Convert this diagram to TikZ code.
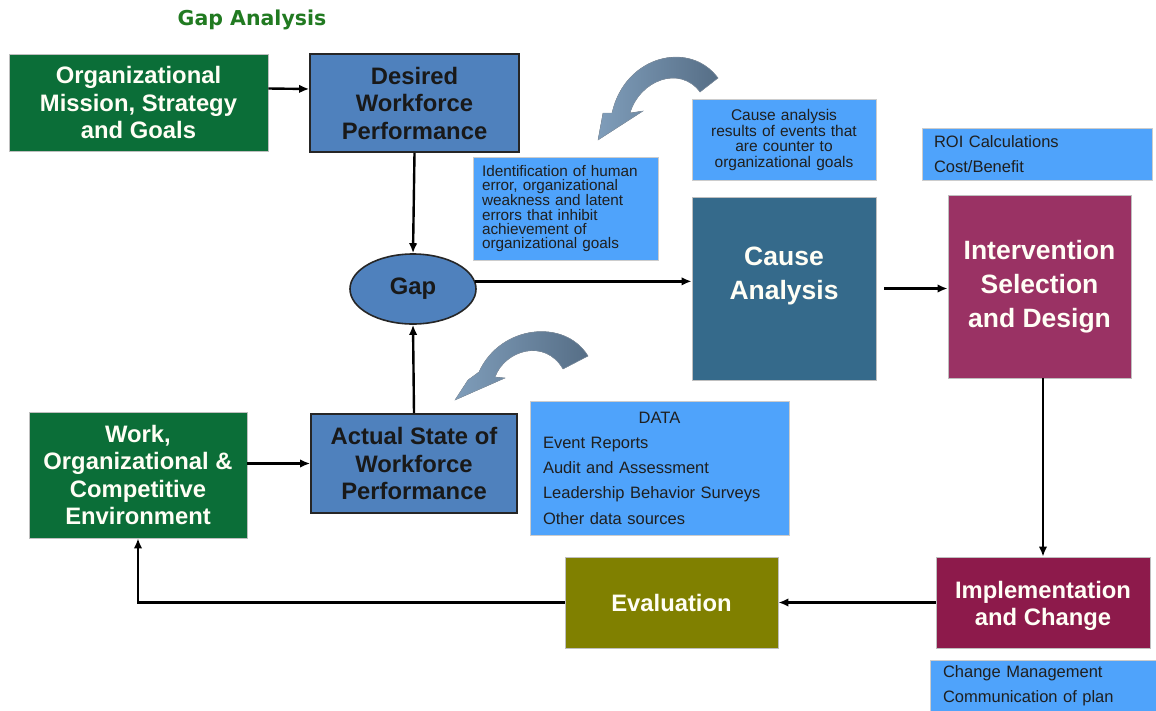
\documentclass[tikz,border=0pt]{standalone}
\usepackage{fontspec}
\setmainfont{Liberation Sans}
\newfontfamily\titlefont{DejaVu Sans}
\usetikzlibrary{arrows.meta,shapes.geometric,calc}
\definecolor{orggreen}{HTML}{0B6E38}
\definecolor{wfblue}{HTML}{4F81BD}
\definecolor{lightblue}{HTML}{4FA3FB}
\definecolor{causeblue}{HTML}{356A8B}
\definecolor{intercol}{HTML}{9A3264}
\definecolor{implcol}{HTML}{8D1A4B}
\definecolor{evalcol}{HTML}{808000}
\definecolor{titlegreen}{HTML}{217A21}
\definecolor{arrowlight}{HTML}{7F9DBA}
\definecolor{arrowdark}{HTML}{566E86}
\tikzset{
  box/.style={draw=black!25, line width=0.8pt, inner sep=0pt, align=center,
    font=\bfseries\fontsize{23.8}{27.5}\selectfont, text=white!96!yellow},
  greenbox/.style={box, fill=orggreen},
  wfbox/.style={box, draw=black!85, line width=1.6pt, fill=wfblue, text=black!90},
  bigbox/.style={box, font=\bfseries\fontsize{26.5}{34}\selectfont},
  note/.style={fill=lightblue, draw=black!20, line width=0.6pt, text=black!88,
    font=\fontsize{16.5}{25.3}\selectfont, align=left, inner sep=0pt},
  arr/.style={line width=2.4pt, -{Latex[length=10pt,width=8.5pt]}},
  curvearrow/.style={left color=arrowlight, right color=arrowdark, draw=arrowdark!70, line width=0.4pt}
}
\begin{document}
\begin{tikzpicture}[x=1pt,y=-1pt]
\useasboundingbox (0,0) rectangle (1156,710);
\fill[white] (0,0) rectangle (1156,710);

\node[font=\titlefont\bfseries\fontsize{20.5}{24}\selectfont, text=titlegreen] (title) at (252,20) {Gap Analysis};

\node[greenbox, minimum width=259pt, minimum height=97pt] (org) at (138.5,102.5)
  {Organizational\\Mission, Strategy\\and Goals};
\node[wfbox, minimum width=209pt, minimum height=98pt] (des) at (414.5,103)
  {Desired\\Workforce\\Performance};
\node[wfbox, ellipse, minimum width=126pt, minimum height=70pt] (gap) at (413,289) {Gap};

\node[note, minimum width=185pt, minimum height=103pt, text width=167pt,
  font=\fontsize{15.3}{14.2}\selectfont] (ident) at (565.5,208.5)
  {Identification of human\\error, organizational\\weakness and latent\\errors that inhibit\\achievement of\\organizational goals};

\node[note, align=center, minimum width=184pt, minimum height=81pt, text width=184pt,
  font=\fontsize{15.5}{15.7}\selectfont] (results) at (784,140)
  {Cause analysis\\results of events that\\are counter to\\organizational goals};

\node[bigbox, fill=causeblue, minimum width=184pt, minimum height=183pt] (cause) at (784,288.5)
  {Cause\\Analysis\\[-4pt]\phantom{A}};

\node[note, minimum width=230pt, minimum height=52pt, text width=206pt] (roi) at (1037,154)
  {ROI Calculations\\Cost/Benefit};

\node[bigbox, fill=intercol, minimum width=183pt, minimum height=183pt] (inter) at (1039.5,286.5)
  {Intervention\\Selection\\and Design};

\node[box, fill=implcol, minimum width=214pt, minimum height=91pt] (impl) at (1043,602.5)
  {\raisebox{-10pt}[0pt][0pt]{\begin{tabular}{@{}c@{}}Implementation\\and Change\end{tabular}}};

\node[note, minimum width=226pt, minimum height=52pt, text width=200pt] (change) at (1043,686)
  {Change Management\\Communication of plan};

\node[box, fill=evalcol, minimum width=213pt, minimum height=91pt] (eval) at (671.5,602.5)
  {Evaluation};

\node[greenbox, minimum width=218pt, minimum height=126pt] (work) at (138,475)
  {Work,\\Organizational \&\\Competitive\\Environment};

\node[wfbox, minimum width=206pt, minimum height=99pt] (actual) at (414,463.5)
  {Actual State of\\Workforce\\Performance};

\node[note, minimum width=259pt, minimum height=134pt, text width=233pt] (data) at (659.5,468)
  {\makebox[\linewidth][c]{DATA}\\Event Reports\\Audit and Assessment\\Leadership Behavior Surveys\\Other data sources};

% curved arrows
\fill[curvearrow] (718,78) .. controls (690,40) and (625,55) .. (612,113) -- (603,113) -- (598,140)
  -- (643,111) -- (630,113) .. controls (640,80) and (680,65) .. (700,92) -- cycle;
\fill[curvearrow] (588,356) .. controls (565,318) and (500,325) .. (479,372) -- (468,380) -- (455,400)
  -- (505,378) -- (495,377) .. controls (505,350) and (545,338) .. (563,369) -- cycle;

% connectors
\draw[arr] ([yshift=14pt]org.east) -- ([yshift=14pt]des.west);
\draw[arr] (des.south) -- (gap.north);
\draw[arr] (gap.7.5) -- (gap.7.5 -| cause.west);
\draw[arr] ([xshift=8pt]cause.east) -- (cause.east -| inter.west);
\draw[arr] (impl.north |- inter.south) -- (impl.north);
\draw[arr] (impl.west) -- (eval.east);
\draw[arr] (eval.west) -| (work.south);
\draw[arr] (actual.west -| work.east) -- (actual.west);
\draw[arr] (actual.north) -- (gap.south);
\end{tikzpicture}
\end{document}
